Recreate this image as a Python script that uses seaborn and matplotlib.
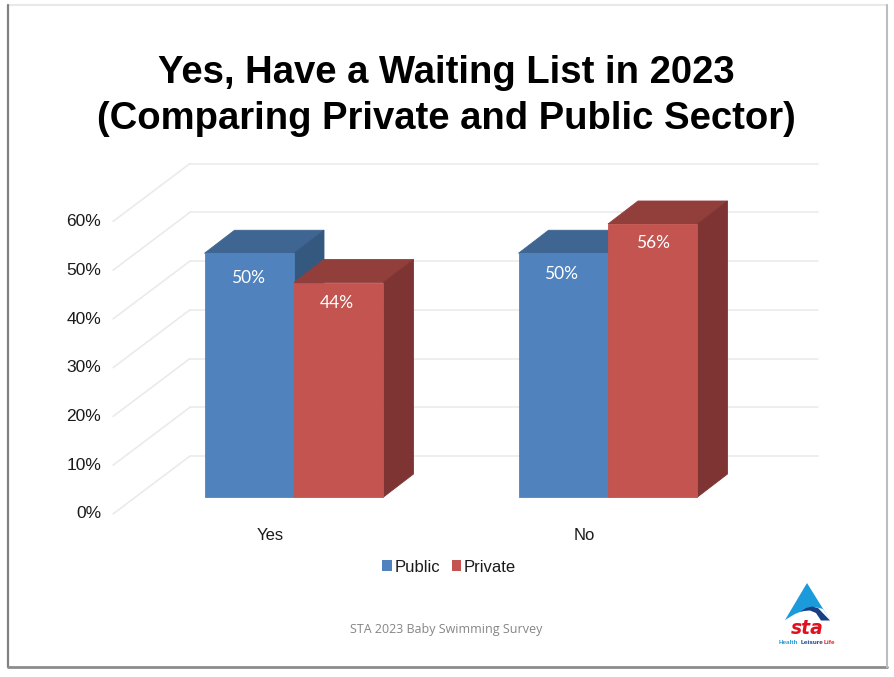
import matplotlib
matplotlib.use("Agg")
import matplotlib.pyplot as plt
from matplotlib.patches import Polygon, Rectangle
from matplotlib.lines import Line2D
from matplotlib.transforms import Affine2D, IdentityTransform
import pandas as pd
import seaborn as sns

categories = ["Yes", "No"]
sectors = ["Public", "Private"]
public_values = [50, 50]
private_values = [44, 56]
y_ticks = [0, 10, 20, 30, 40, 50, 60]
title_text = "Yes, Have a Waiting List in 2023\n(Comparing Private and Public Sector)"
footer_text = "STA 2023 Baby Swimming Survey"

W, H = 894, 677
front_col = {"Public": "#5082BE", "Private": "#C3544F"}
top_col = {"Public": "#3F6592", "Private": "#923F3C"}
side_col = {"Public": "#35587F", "Private": "#7D3432"}
grid_col = "#EAEAEA"
text_col = "#1a1a1a"

sns.set_theme(style="white")
plt.rcParams["font.family"] = ["Liberation Sans", "DejaVu Sans"]

df = pd.DataFrame({
    "category": categories * 2,
    "sector": [sectors[0]] * 2 + [sectors[1]] * 2,
    "value": public_values + private_values,
})

fig = plt.figure(figsize=(W / 100, H / 100), dpi=100, facecolor="white")
ax = fig.add_axes([113 / W, (H - 514) / H, 628 / W, 292.5 / H])
ax.patch.set_alpha(0)

sns.barplot(data=df, x="category", y="value", hue="sector", order=categories,
            hue_order=sectors, palette=front_col, width=0.57, gap=0, saturation=1,
            legend=False, ax=ax, zorder=5)

ax.set_xlim(-0.5, 1.5)
ax.set_ylim(0, 60)
ax.set_yticks(y_ticks)
ax.set_yticklabels([f"{t}%" for t in y_ticks])
ax.set_xlabel("")
ax.set_ylabel("")
ax.tick_params(axis="y", length=0, pad=8.5, labelsize=12.5, labelcolor=text_col)
ax.tick_params(axis="x", length=0, pad=10, labelsize=12, labelcolor=text_col)
sns.despine(ax=ax, left=True, bottom=True)
for lab in ax.get_yticklabels():
    lab.set_transform(lab.get_transform() + Affine2D().translate(0, 1.5))

# depth of the pseudo-3D box, in pixels
back = Affine2D().translate(77, 58)
bar_shift = Affine2D().translate(24, 17)
dx, dy = 30, 23
px = IdentityTransform()

# back wall and side wall gridlines
for t in y_ticks:
    ax.plot([-0.5, 1.5], [t, t], color=grid_col, lw=1.15, transform=ax.transData + back,
            clip_on=False, zorder=1)
    x0, y0 = ax.transData.transform((-0.5, t))
    ax.add_line(Line2D([x0, x0 + 77], [y0, y0 + 58], color=grid_col, lw=1.15,
                       transform=px, clip_on=False, zorder=1))

# extrude each bar
for s, (sector, cont) in enumerate(zip(sectors, ax.containers)):
    z = 3 + s
    for bar in cont:
        xa, ya = ax.transData.transform((bar.get_x(), 0))
        xb, yb = ax.transData.transform((bar.get_x() + bar.get_width(), bar.get_height()))
        xa, xb, ya, yb = xa + 24, xb + 24, ya + 17, yb + 17
        top = Polygon([(xa, yb), (xb, yb), (xb + dx, yb + dy), (xa + dx, yb + dy)],
                      closed=True, fc=top_col[sector], ec=top_col[sector], lw=0.6,
                      transform=px, clip_on=False, zorder=z)
        side = Polygon([(xb, ya), (xb, yb), (xb + dx, yb + dy), (xb + dx, ya + dy)],
                       closed=True, fc=side_col[sector], ec=side_col[sector], lw=0.6,
                       transform=px, clip_on=False, zorder=z)
        ax.add_patch(top)
        ax.add_patch(side)
        bar.set_transform(ax.transData + bar_shift)
        bar.set_clip_on(False)
        bar.set_zorder(z + 0.5)
        bar.set_edgecolor(front_col[sector])
        bar.set_linewidth(0.6)

# value labels (white, inside the top of each bar)
label_nudges = [[(-1.5, -25), (-2, -20.5)], [(-2.5, -21), (0, -18.5)]]
for s, cont in enumerate(ax.containers):
    for c, bar in enumerate(cont):
        nx, ny = label_nudges[c][s]
        xp, yp = ax.transData.transform((bar.get_x() + bar.get_width() / 2, bar.get_height()))
        ax.text(xp + 24 + nx, yp + 17 + ny, f"{bar.get_height():.0f}%", color="white",
                family="Lato", fontsize=12.5, ha="center", va="center",
                transform=px, zorder=8, clip_on=False)

# top-origin pixel coordinates for the page furniture
page = Affine2D().scale(1, -1).translate(0, H)

fig.text(446, 96, title_text, transform=page, ha="center", va="center",
         fontsize=27.5, fontweight="bold", color="black", linespacing=1.34,
         family="Liberation Sans")
fig.text(446, 630, footer_text, transform=page, ha="center", va="center",
         fontsize=9, color="#858585", family="Open Sans")

# legend
handles = [Rectangle((0, 0), 1, 1, fc=front_col[s], ec="none") for s in sectors]
fig.legend(handles, sectors, loc="center", bbox_to_anchor=(449 / W, 1 - 567 / H),
           ncol=2, frameon=False, fontsize=12, handlelength=0.55, handleheight=0.6,
           handletextpad=0.15, columnspacing=0.72, labelcolor=text_col)

# slide frame with soft shadow
fig.add_artist(Line2D([8, 887], [5, 5], color="#E8E8E8", lw=1.5, transform=page))
fig.add_artist(Line2D([8, 8], [5, 667], color="#808080", lw=1.6, transform=page))
fig.add_artist(Line2D([8, 887], [667, 667], color="#8C8C8C", lw=2, transform=page))
fig.add_artist(Line2D([887, 887], [5, 667], color="#BDBDBD", lw=1.5, transform=page))

# STA logo
fig.add_artist(Polygon([(807, 583), (785, 620), (830, 620)], closed=True, fc="#1C9BDB",
                       ec="none", transform=page))
fig.add_artist(Polygon([(785, 620), (795, 614), (805, 610), (815, 607), (823, 609), (831, 621),
                        (785, 621)], closed=True, fc="white", ec="none", transform=page))
fig.add_artist(Polygon([(800, 612), (806, 608), (812, 606.5), (818, 608), (830, 620.5), (821, 620.5),
                        (816, 613), (810, 610.5), (804, 611)], closed=True, fc="#173F86",
                       ec="none", transform=page))
fig.text(807, 628, "sta", transform=page, ha="center", va="center", fontsize=13.5,
         fontweight="bold", fontstyle="italic", color="#E2101F", family="DejaVu Sans")
fig.text(779, 643, "Health", transform=page, ha="left", va="center", fontsize=4.6,
         fontweight="bold", color="#2B9BD7", family="Liberation Sans")
fig.text(801, 643, "Leisure", transform=page, ha="left", va="center", fontsize=4.6,
         fontweight="bold", color="#173F86", family="Liberation Sans")
fig.text(824, 643, "Life", transform=page, ha="left", va="center", fontsize=4.6,
         fontweight="bold", color="#D8232A", family="Liberation Sans")

fig.savefig("out.png", dpi=100)
